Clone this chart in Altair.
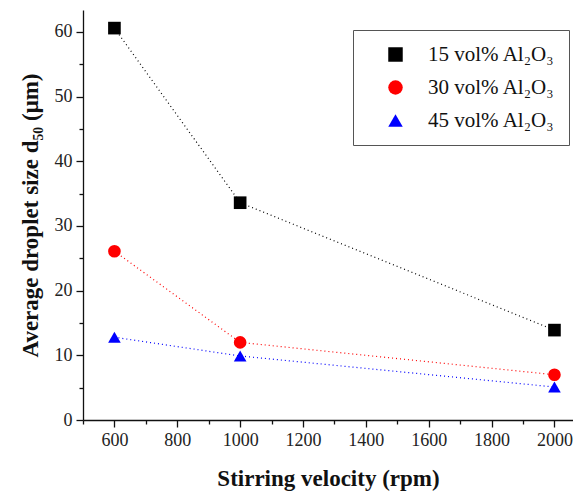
import altair as alt
import pandas as pd

velocity = [600, 1000, 2000]
s15 = [60.6, 33.6, 13.9]
s30 = [26.1, 12.0, 7.0]
s45 = [12.8, 9.9, 5.1]
series_names = ["15 vol% Al₂O₃", "30 vol% Al₂O₃", "45 vol% Al₂O₃"]
colors = ["#000000", "#ff0000", "#0000ff"]
shapes = ["square", "circle", "triangle-up"]

rows = []
for name, vals in zip(series_names, [s15, s30, s45]):
    for v, d in zip(velocity, vals):
        rows.append({"velocity": v, "d50": d, "series": name})
df = pd.DataFrame(rows)

FONT = "Liberation Serif"

x = alt.X("velocity:Q",
          scale=alt.Scale(domain=[500, 2059], nice=False, zero=False),
          axis=alt.Axis(title="Stirring velocity (rpm)", format="d",
                        values=list(range(500, 2100, 100)),
                        labelExpr="datum.value % 200 === 0 && datum.value >= 600 ? datum.label : ''",
                        tickSize=alt.expr("datum.value % 200 === 0 ? 7 : 4"),
                        labelPadding=4, titlePadding=18))
y = alt.Y("d50:Q",
          scale=alt.Scale(domain=[0, 63.4], nice=False),
          axis=alt.Axis(title="Average droplet size d₅₀ (μm)",
                        values=list(range(0, 65, 5)),
                        labelExpr="datum.value % 10 === 0 ? datum.label : ''",
                        tickSize=alt.expr("datum.value % 10 === 0 ? 7 : 4"),
                        labelPadding=4, titlePadding=12))
legend = alt.Legend(title=None, orient="none", legendX=270, legendY=20,
                    strokeColor="#555555", padding=14,
                    labelFont=FONT, labelFontSize=21, labelColor="#111111",
                    symbolSize=210, rowPadding=11, symbolOffset=18, labelOffset=22,
                    symbolStrokeWidth=0)
color = alt.Color("series:N", scale=alt.Scale(domain=series_names, range=colors),
                  legend=legend)
shape = alt.Shape("series:N", scale=alt.Scale(domain=series_names, range=shapes),
                  legend=legend)

lines = alt.Chart(df).mark_line(strokeDash=[1, 3], strokeWidth=1.2).encode(
    x=x, y=y, color=color)
points = alt.Chart(df).mark_point(filled=True, size=160, opacity=1).encode(
    x=x, y=y, color=color, shape=shape)

chart = (lines + points).properties(
    width=490, height=410,
    autosize=alt.AutoSizeParams(type="none"),
    padding={"left": 75, "top": 2, "right": 0, "bottom": 72},
).configure_view(stroke=None).configure_axis(
    labelFont=FONT, labelFontSize=18, labelColor="#222222",
    titleFont=FONT, titleFontSize=23, titleFontWeight="bold", titleColor="#111111",
    domainColor="#111111", tickColor="#111111", domainWidth=1.3, tickWidth=1.3,
    grid=False,
)

chart.save("out.html", embed_options={"renderer": "svg", "actions": False})
